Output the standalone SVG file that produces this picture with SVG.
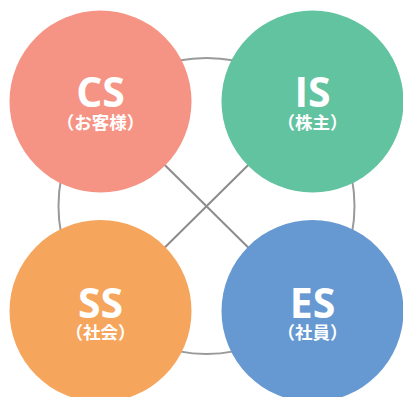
<svg xmlns="http://www.w3.org/2000/svg" width="403" height="397" viewBox="0 0 403 397">
  <style>
    .ring { fill: none; stroke: #9a9a9a; stroke-width: 2; }
    .link { stroke: #8c8c8c; stroke-width: 2; }
    .main { font-family: "Open Sans", "Noto Sans", sans-serif; font-weight: 700; font-size: 41px; fill: #ffffff; text-anchor: middle; }
    .sub { font-family: "Noto Sans CJK JP", sans-serif; font-weight: 700; font-size: 17.5px; fill: #ffffff; text-anchor: middle; }
  </style>
  <rect width="403" height="397" fill="#ffffff"/>
  <g id="connectors">
    <circle class="ring" cx="206.5" cy="206" r="148"/>
    <line class="link" x1="100.5" y1="101.5" x2="312.5" y2="311"/>
    <line class="link" x1="312.5" y1="101.5" x2="100.5" y2="311"/>
  </g>
  <g id="cs">
    <circle cx="100.5" cy="101.5" r="91" fill="#f59484"/>
    <text class="main" x="100.5" y="107">CS</text>
    <text class="sub" x="100.5" y="129">（お客様）</text>
  </g>
  <g id="is">
    <circle cx="312.5" cy="101.5" r="91" fill="#62c3a1"/>
    <text class="main" x="312.5" y="107">IS</text>
    <text class="sub" x="312.5" y="129">（株主）</text>
  </g>
  <g id="ss">
    <circle cx="100.5" cy="311" r="91" fill="#f6a55d"/>
    <text class="main" x="100.5" y="318">SS</text>
    <text class="sub" x="100.5" y="339">（社会）</text>
  </g>
  <g id="es">
    <circle cx="312.5" cy="311" r="91" fill="#6699d2"/>
    <text class="main" x="312.5" y="318">ES</text>
    <text class="sub" x="312.5" y="339">（社員）</text>
  </g>
</svg>
